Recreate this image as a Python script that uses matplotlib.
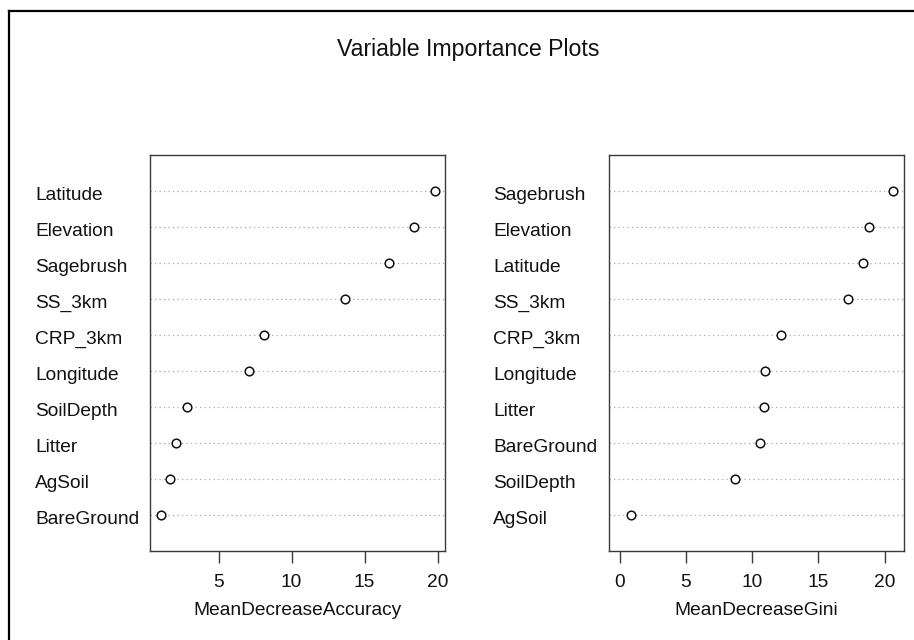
import matplotlib
matplotlib.use("Agg")
import matplotlib.pyplot as plt
import matplotlib.transforms as mtransforms
from matplotlib.lines import Line2D

plt.rcParams['font.family'] = ['Liberation Sans', 'DejaVu Sans']

title = "Variable Importance Plots"

acc_vars = ["Latitude", "Elevation", "Sagebrush", "SS_3km", "CRP_3km",
            "Longitude", "SoilDepth", "Litter", "AgSoil", "BareGround"]
acc_vals = [19.79, 18.36, 16.69, 13.67, 8.10, 7.10, 2.83, 2.05, 1.64, 1.05]
acc_ticks = [5, 10, 15, 20]
acc_xlabel = "MeanDecreaseAccuracy"

gini_vars = ["Sagebrush", "Elevation", "Latitude", "SS_3km", "CRP_3km",
             "Longitude", "Litter", "BareGround", "SoilDepth", "AgSoil"]
gini_vals = [20.65, 18.80, 18.35, 17.21, 12.20, 10.99, 10.91, 10.61, 8.70, 0.83]
gini_ticks = [0, 5, 10, 15, 20]
gini_xlabel = "MeanDecreaseGini"

W, H = 914, 640
fig = plt.figure(figsize=(W / 100, H / 100), dpi=100)
fig.patch.set_facecolor('white')

FS = 13.8
TXT = '#111111'
FRAME = '#3a3a3a'


def panel(left_px, label_x_px, names, vals, ticks, xlabel, xmin):
    ax = fig.add_axes([left_px / W, (H - 550.7) / H, 295.5 / W, 396 / H])
    n = len(names)
    ys = [n - i for i in range(n)]
    for y in ys:
        ax.axhline(y, color='#a8a8a8', lw=0.9, ls=(0, (1, 2.6)), zorder=1)
    ax.plot(vals, ys, ls='none', marker='o', ms=6.2, mfc='white',
            mec='#111111', mew=1.1, zorder=3)
    lo = xmin
    hi = max(vals)
    ext = 0.04 * (hi - lo)
    ax.set_xlim(lo - ext, hi + ext)
    ax.set_ylim(0, n + 1)
    ax.set_yticks([])
    ax.set_xticks(ticks)
    ax.set_xticklabels([str(t) for t in ticks], fontsize=FS, color=TXT)
    ax.tick_params(axis='x', direction='out', length=8.5, width=1.0,
                   color=FRAME, pad=8.5)
    for s in ax.spines.values():
        s.set_color(FRAME)
        s.set_linewidth(1.0)
    ax.set_xlabel(xlabel, fontsize=FS, color=TXT, labelpad=8)
    tr = mtransforms.blended_transform_factory(fig.transFigure, ax.transData)
    tr = tr + mtransforms.ScaledTranslation(0, -9.0 / 100, fig.dpi_scale_trans)
    for name, y in zip(names, ys):
        fig.text(label_x_px / W, y, name, transform=tr, ha='left',
                 va='baseline', fontsize=FS, color=TXT)
    return ax


panel(150, 35, acc_vars, acc_vals, acc_ticks, acc_xlabel, min(acc_vals))
panel(608.7, 493.3, gini_vars, gini_vals, gini_ticks, gini_xlabel, 0)

fig.text(467.8 / W, (H - 56) / H, title, ha='center', va='baseline',
         fontsize=16.7, color=TXT)

# outer border (left and top edges of the screenshot frame)
fig.add_artist(Line2D([9 / W, 9 / W], [0, (H - 11) / H], color='black',
                      lw=1.6, transform=fig.transFigure))
fig.add_artist(Line2D([9 / W, 1], [(H - 11) / H, (H - 11) / H], color='black',
                      lw=1.6, transform=fig.transFigure))

fig.savefig("out.png", dpi=100, facecolor='white')
